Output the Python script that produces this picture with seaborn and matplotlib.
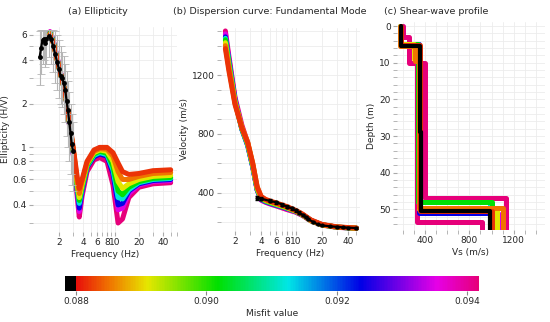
import numpy as np
import pandas as pd
import matplotlib
matplotlib.use("Agg")
import matplotlib.pyplot as plt
from matplotlib.colors import LinearSegmentedColormap, Normalize
from matplotlib.cm import ScalarMappable
from matplotlib.ticker import FixedLocator, NullFormatter, MultipleLocator
import seaborn as sns

# ---------------- data ----------------
# misfit value of each drawn model (worst first, best last)
model_misfit = [0.0942, 0.0935, 0.0924, 0.0912, 0.0902, 0.0891, 0.0885, 0.0882]

# (a) ellipticity
ell_freq = [1.55, 1.7, 2.0, 2.4, 2.8, 3.1, 3.4, 3.6, 3.9, 4.5, 5.5, 6.5, 8, 9.5, 11, 12.5, 15, 20, 30, 50]
ell_models = [
    [6.3, 5.5, 3.7, 2.4, 1.25, 0.80, 0.45, 0.33, 0.46, 0.68, 0.82, 0.85, 0.80, 0.55, 0.30, 0.32, 0.45, 0.53, 0.56, 0.57],
    [6.3, 5.5, 3.7, 2.4, 1.27, 0.82, 0.48, 0.36, 0.49, 0.75, 0.92, 1.00, 0.95, 0.66, 0.37, 0.38, 0.48, 0.55, 0.58, 0.59],
    [6.2, 5.4, 3.6, 2.4, 1.28, 0.83, 0.50, 0.38, 0.50, 0.73, 0.86, 0.90, 0.87, 0.66, 0.40, 0.41, 0.50, 0.56, 0.59, 0.60],
    [6.2, 5.4, 3.6, 2.4, 1.28, 0.84, 0.52, 0.41, 0.52, 0.74, 0.88, 0.92, 0.89, 0.70, 0.45, 0.44, 0.51, 0.57, 0.60, 0.61],
    [6.2, 5.4, 3.6, 2.4, 1.30, 0.85, 0.53, 0.43, 0.53, 0.75, 0.90, 0.94, 0.91, 0.74, 0.50, 0.47, 0.53, 0.58, 0.61, 0.62],
    [6.1, 5.3, 3.6, 2.4, 1.30, 0.86, 0.55, 0.45, 0.55, 0.77, 0.92, 0.96, 0.94, 0.80, 0.58, 0.52, 0.56, 0.60, 0.63, 0.64],
    [6.1, 5.3, 3.6, 2.4, 1.30, 0.88, 0.58, 0.48, 0.58, 0.78, 0.94, 0.98, 0.97, 0.87, 0.68, 0.60, 0.60, 0.63, 0.66, 0.67],
    [6.0, 5.3, 3.6, 2.4, 1.35, 0.90, 0.62, 0.52, 0.60, 0.80, 0.96, 1.00, 1.00, 0.92, 0.78, 0.68, 0.65, 0.66, 0.69, 0.70],
]
obs_ell_freq = [1.15, 1.2, 1.25, 1.3, 1.35, 1.4, 1.5, 1.6, 1.7, 1.8, 1.9, 2.0, 2.1, 2.2, 2.3, 2.4, 2.5, 2.6, 2.7, 2.8, 2.9, 3.0]
obs_ell = [4.2, 4.9, 5.5, 5.6, 5.3, 5.6, 5.9, 5.6, 5.0, 4.4, 3.9, 3.5, 3.1, 3.0, 2.8, 2.5, 2.1, 1.8, 1.5, 1.25, 1.05, 0.95]
obs_ell_lo = [2.7, 3.2, 3.8, 4.0, 3.6, 3.8, 4.2, 3.8, 3.3, 2.8, 2.5, 2.2, 2.0, 1.9, 1.7, 1.5, 1.2, 1.0, 0.8, 0.65, 0.55, 0.5]
obs_ell_hi = [6.4, 6.5, 6.5, 6.5, 6.5, 6.5, 6.5, 6.5, 6.5, 6.4, 6.0, 5.5, 5.0, 4.6, 4.3, 3.8, 3.4, 2.9, 2.4, 2.0, 1.7, 1.5]

# (b) dispersion curve
disp_freq = [1.55, 1.7, 2.0, 2.4, 2.8, 3.2, 3.6, 4.0, 4.5, 5, 6, 8, 10, 12, 15, 20, 30, 50]
disp_models = [
    [1500, 1330, 1050, 860, 740, 580, 420, 350, 335, 325, 310, 285, 268, 245, 208, 180, 165, 158],
    [1480, 1310, 1040, 835, 725, 578, 418, 352, 338, 328, 313, 290, 270, 248, 212, 183, 166, 159],
    [1460, 1300, 1030, 830, 720, 575, 420, 355, 340, 330, 315, 293, 272, 250, 212, 183, 166, 159],
    [1450, 1290, 1025, 833, 725, 580, 422, 358, 343, 333, 318, 295, 274, 250, 211, 182, 166, 159],
    [1440, 1280, 1020, 835, 730, 585, 425, 360, 345, 335, 320, 296, 275, 250, 210, 182, 166, 159],
    [1420, 1260, 1015, 840, 735, 590, 430, 365, 348, 338, 322, 298, 275, 250, 210, 182, 166, 159],
    [1400, 1250, 1010, 845, 745, 600, 440, 372, 352, 342, 327, 302, 278, 252, 212, 183, 167, 160],
    [1380, 1230, 1000, 840, 740, 600, 440, 375, 355, 345, 330, 305, 280, 255, 215, 185, 168, 160],
]
obs_disp_freq = [3.6, 4, 5, 6, 7, 8, 9, 10, 11, 12, 13, 14, 16, 18, 20, 25, 30, 35, 40, 50]
obs_disp = [365, 360, 345, 335, 320, 305, 295, 280, 265, 250, 235, 220, 200, 185, 178, 172, 168, 165, 163, 160]

# (c) shear-wave profiles: layer tops (m) and Vs (m/s)
vs_tops = [
    [0, 3, 10, 47],
    [0, 5.5, 51],
    [0, 5, 51],
    [0, 5, 48],
    [0, 5, 48],
    [0, 5, 9, 50],
    [0, 5.5, 9.5, 49.5],
    [0, 5.3, 50.5],
]
vs_vals = [
    [200, 260, 400, 1130],
    [185, 350, 1060],
    [185, 345, 1050],
    [180, 340, 990],
    [180, 342, 1000],
    [180, 300, 350, 1050],
    [180, 310, 350, 1100],
    [185, 355, 1000],
]
vs_extra_tops = [0, 5, 53.5]
vs_extra_vals = [190, 330, 910]
best_tops = [0, 5.4, 29, 50.5]
best_vs = [185, 355, 368, 985]
max_depth = 56

# colour scale
cbar_ticks = [0.088, 0.090, 0.092, 0.094]
vmin, vmax = 0.08783, 0.09418
cmap = LinearSegmentedColormap.from_list("misfit", [
    (0.0, "#000000"), (0.027, "#000000"), (0.0271, "#e8100a"), (0.109, "#f07800"),
    (0.198, "#e6e600"), (0.369, "#00e000"), (0.539, "#00e6e6"), (0.715, "#0000e6"),
    (0.90, "#e600e6"), (1.0, "#e6007a")])
norm = Normalize(vmin, vmax)

# ---------------- figure ----------------
sns.set_style("whitegrid")
plt.rcParams["font.family"] = ["DejaVu Sans"]
plt.rcParams["font.size"] = 6.5

fig = plt.figure(figsize=(5.5, 3.22), dpi=100)
H = 322.0
W = 550.0


def box(l, r, t, b):
    return [l / W, 1 - b / H, (r - l) / W, (b - t) / H]


ax_a = fig.add_axes(box(33, 177, 27, 232))
ax_b = fig.add_axes(box(221, 360, 28, 231))
ax_c = fig.add_axes(box(397, 545, 22, 230))


def style(ax):
    for s in ax.spines.values():
        s.set_visible(False)
    ax.grid(True, which="both", color="#ececec", lw=0.6)
    ax.tick_params(which="both", color="#aaaaaa", labelsize=6.5, pad=1.5)
    ax.tick_params(which="major", length=3, left=True, bottom=True)
    ax.tick_params(which="minor", length=3, left=True, bottom=True)


lw = 3.6

# (a)
for m, ys in zip(model_misfit, ell_models):
    sns.lineplot(x=ell_freq, y=ys, ax=ax_a, color=cmap(norm(m)), lw=lw, sort=False, estimator=None)
ell_lo_err = np.array(obs_ell) - np.array(obs_ell_lo)
ell_hi_err = np.array(obs_ell_hi) - np.array(obs_ell)
ax_a.errorbar(obs_ell_freq, obs_ell, yerr=[ell_lo_err, ell_hi_err], fmt="none",
              ecolor="#b5b5b5", elinewidth=0.8, capsize=3, capthick=0.6, zorder=3)
sns.lineplot(x=obs_ell_freq, y=obs_ell, ax=ax_a, color="black", lw=1.6, marker="o",
             markersize=3.5, markeredgewidth=0, sort=False, estimator=None, zorder=4)
ax_a.set_xscale("log")
ax_a.set_yscale("log")
ax_a.set_xlim(0.95, 60)
ax_a.set_ylim(0.26, 6.8)
ax_a.xaxis.set_major_locator(FixedLocator([2, 4, 6, 8, 10, 20, 40]))
ax_a.set_xticklabels(["2", "4", "6", "8", "10", "20", "40"])
ax_a.xaxis.set_minor_formatter(NullFormatter())
ax_a.yaxis.set_major_locator(FixedLocator([0.4, 0.6, 0.8, 1, 2, 4, 6]))
ax_a.set_yticklabels(["0.4", "0.6", "0.8", "1", "2", "4", "6"])
ax_a.yaxis.set_minor_formatter(NullFormatter())
ax_a.set_xlabel("Frequency (Hz)", labelpad=2)
ax_a.set_ylabel("Ellipticity (H/V)", labelpad=2)
style(ax_a)

# (b)
for m, ys in zip(model_misfit, disp_models):
    sns.lineplot(x=disp_freq, y=ys, ax=ax_b, color=cmap(norm(m)), lw=lw, sort=False, estimator=None)
ax_b.errorbar(obs_disp_freq, obs_disp, yerr=np.array(obs_disp) * 0.03, fmt="none",
              ecolor="black", elinewidth=0.6, capsize=1.5, zorder=3)
sns.lineplot(x=obs_disp_freq, y=obs_disp, ax=ax_b, color="black", lw=1.6, marker="o",
             markersize=3, markeredgewidth=0, sort=False, estimator=None, zorder=4)
ax_b.set_xscale("log")
ax_b.set_xlim(1.38, 55)
ax_b.set_ylim(140, 1520)
ax_b.xaxis.set_major_locator(FixedLocator([2, 4, 6, 8, 10, 20, 40]))
ax_b.set_xticklabels(["2", "4", "6", "8", "10", "20", "40"])
ax_b.xaxis.set_minor_formatter(NullFormatter())
ax_b.yaxis.set_major_locator(FixedLocator([400, 800, 1200]))
ax_b.yaxis.set_minor_locator(MultipleLocator(100))
ax_b.set_xlabel("Frequency (Hz)", labelpad=2)
ax_b.set_ylabel("Velocity (m/s)", labelpad=2)
style(ax_b)


def step_profile(tops, vals):
    d = [tops[0]]
    v = [vals[0]]
    for t, a, b in zip(tops[1:], vals[:-1], vals[1:]):
        d += [t, t]
        v += [a, b]
    d.append(max_depth)
    v.append(vals[-1])
    return v, d


# (c)
px, pd_ = step_profile(vs_extra_tops, vs_extra_vals)
sns.lineplot(x=px, y=pd_, ax=ax_c, color=cmap(norm(model_misfit[0])), lw=lw, sort=False, estimator=None)
for m, tops, vals in zip(model_misfit, vs_tops, vs_vals):
    px, pd_ = step_profile(tops, vals)
    sns.lineplot(x=px, y=pd_, ax=ax_c, color=cmap(norm(m)), lw=lw, sort=False, estimator=None)
px, pd_ = step_profile(best_tops, best_vs)
sns.lineplot(x=px, y=pd_, ax=ax_c, color="black", lw=3.0, sort=False, estimator=None)
ax_c.set_xlim(150, 1480)
ax_c.set_ylim(55.6, -1.1)
ax_c.xaxis.set_major_locator(FixedLocator([400, 800, 1200]))
ax_c.xaxis.set_minor_locator(MultipleLocator(100))
ax_c.yaxis.set_major_locator(FixedLocator([0, 10, 20, 30, 40, 50]))
ax_c.yaxis.set_minor_locator(MultipleLocator(2))
ax_c.set_xlabel("Vs (m/s)", labelpad=2)
ax_c.set_ylabel("Depth (m)", labelpad=2)
style(ax_c)

# titles
fig.text(98 / W, 1 - 11 / H, "(a) Ellipticity", ha="center", va="center", fontsize=6.8)
fig.text(270 / W, 1 - 11 / H, "(b) Dispersion curve: Fundamental Mode", ha="center", va="center", fontsize=6.8)
fig.text(436 / W, 1 - 11 / H, "(c) Shear-wave profile", ha="center", va="center", fontsize=6.8)

# colour bar
cax = fig.add_axes(box(65, 479, 276, 291))
cb = fig.colorbar(ScalarMappable(norm=norm, cmap=cmap), cax=cax, orientation="horizontal")
cb.outline.set_visible(False)
cb.set_ticks(cbar_ticks)
cb.set_ticklabels(["%.3f" % t for t in cbar_ticks])
cax.tick_params(length=3, color="#888888", labelsize=6.5, pad=1.5)
cb.set_label("Misfit value", fontsize=6.5, labelpad=2)

fig.savefig("out.png", dpi=100)
